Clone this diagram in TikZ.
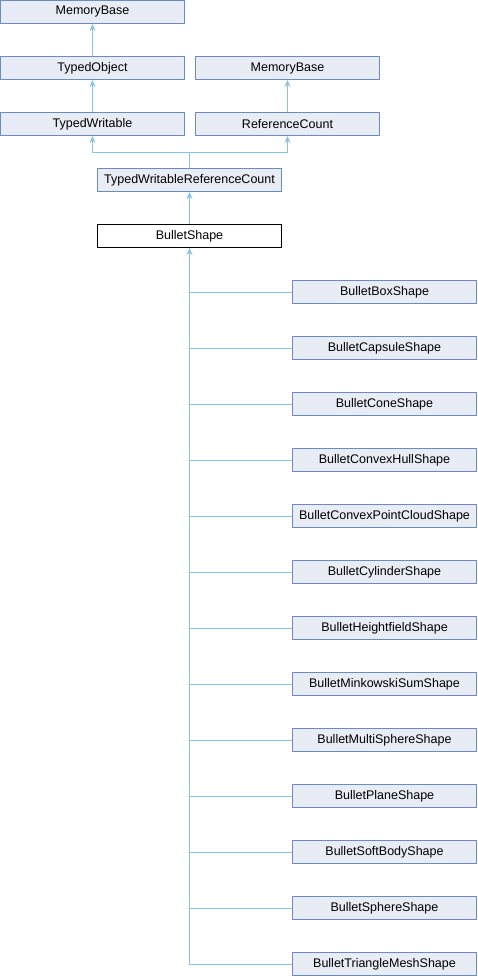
\documentclass[tikz,border=0pt]{standalone}
\usepackage{fontspec}
\setmainfont{Liberation Sans}
\usetikzlibrary{arrows.meta}
\definecolor{boxfill}{RGB}{232,236,245}
\definecolor{boxline}{RGB}{108,138,196}
\definecolor{edgecol}{RGB}{135,195,232}
\tikzset{
  cls/.style={draw=boxline, fill=boxfill, line width=1pt, minimum width=184pt, minimum height=23pt, inner sep=0pt, font=\fontsize{12.5}{14}\selectfont},
  current/.style={cls, draw=black, fill=white},
  edge/.style={draw=edgecol, line width=1pt},
  inh/.style={edge, -{Stealth[length=7pt,width=6pt]}}
}
\begin{document}
\begin{tikzpicture}[x=1pt,y=-1pt]
\useasboundingbox (0,0) rectangle (477,976);
\node[cls] (mb1) at (92.5,12) {MemoryBase};
\node[cls] (tobj) at (92.5,68) {TypedObject};
\node[cls] (mb2) at (287.5,68) {MemoryBase};
\node[cls] (tw) at (92.5,124) {TypedWritable};
\node[cls] (rc) at (287.5,124) {ReferenceCount};
\node[cls] (twrc) at (189.5,180) {TypedWritableReferenceCount};
\node[current] (bs) at (189.5,236) {BulletShape};
\foreach \n [count=\i from 0] in {BulletBoxShape,BulletCapsuleShape,BulletConeShape,BulletConvexHullShape,BulletConvexPointCloudShape,BulletCylinderShape,BulletHeightfieldShape,BulletMinkowskiSumShape,BulletMultiSphereShape,BulletPlaneShape,BulletSoftBodyShape,BulletSphereShape,BulletTriangleMeshShape}
  \node[cls] (c\i) at (384.5,{292+56*\i}) {\n};
% inheritance edges, arrows point at the base class
\draw[inh] (tobj.north) -- (mb1.south);
\draw[inh] (tw.north) -- (tobj.south);
\draw[inh] (rc.north) -- (mb2.south);
\coordinate (j) at (189.5,152.5);
\draw[inh] (twrc.north) -- (j) -| (tw.south);
\draw[inh] (twrc.north) -- (j) -| (rc.south);
\draw[inh] (bs.north) -- (twrc.south);
\foreach \i in {0,...,11}
  \draw[edge] (c\i.west) -| (bs.south);
\draw[inh] (c12.west) -| (bs.south);
\end{tikzpicture}
\end{document}
